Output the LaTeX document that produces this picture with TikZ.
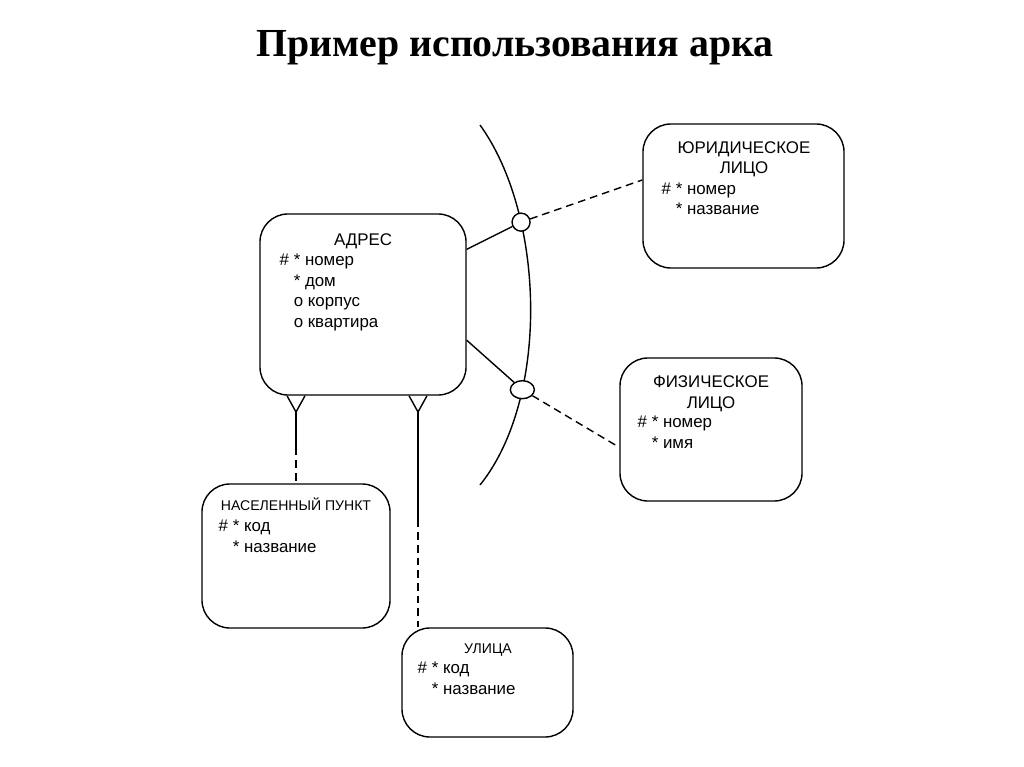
\documentclass[tikz,border=0pt]{standalone}
\usepackage{fontspec}
\setmainfont{Liberation Sans}
\newfontfamily\titlefont{Liberation Serif}
\usetikzlibrary{calc, shapes.geometric}

\tikzset{
    entity/.style={draw, rounded corners=0.7cm, inner sep=0pt},
    head/.style={anchor=base, align=center, inner sep=0pt, font=\fontsize{12}{14.6}\selectfont},
    smallhead/.style={anchor=base, align=center, inner sep=0pt, font=\fontsize{10}{12}\selectfont},
    attrs/.style={anchor=base west, align=left, inner sep=0pt, font=\fontsize{12}{14.6}\selectfont},
    dashline/.style={dash pattern=on 5.5pt off 3.5pt},
}

\begin{document}
\begin{tikzpicture}[x=0.025cm, y=-0.025cm, line width=1pt]
    \useasboundingbox (0,0) rectangle (1024,767);

    \node[anchor=base, font=\titlefont\bfseries\fontsize{28.3}{32}\selectfont] (title) at (515,57) {Пример использования арка};

    % entities
    \node[entity, minimum width=5.15cm, minimum height=4.525cm] (adr) at (363,304.5) {};
    \node[entity, minimum width=5.025cm, minimum height=3.6cm] (jur) at (743.5,196) {};
    \node[entity, minimum width=4.55cm, minimum height=3.575cm] (fiz) at (711,429.5) {};
    \node[entity, minimum width=4.7cm, minimum height=3.6cm] (nas) at (296,556) {};
    \node[entity, minimum width=4.275cm, minimum height=2.725cm] (ul) at (487.5,682.5) {};

    % texts (base = baseline of the last line)
    \node[head] (adrh) at (363,246) {АДРЕС};
    \node[attrs] (adra) at (279,327.5) {\# * номер\\\phantom{\#} * дом\\\phantom{\#} о корпус\\\phantom{\#} о квартира};

    \node[head] (jurh) at (744,174) {ЮРИДИЧЕСКОЕ\\ЛИЦО};
    \node[attrs] (jura) at (661,215) {\# * номер\\\phantom{\#} * название};

    \node[head] (fizh) at (711,408) {ФИЗИЧЕСКОЕ\\ЛИЦО};
    \node[attrs] (fiza) at (637,448) {\# * номер\\\phantom{\#} * имя};

    \node[smallhead] (nash) at (296,510) {НАСЕЛЕННЫЙ ПУНКТ};
    \node[attrs] (nasa) at (218,552) {\# * код\\\phantom{\#} * название};

    \node[smallhead] (ulh) at (488,653) {УЛИЦА};
    \node[attrs] (ula) at (417,694) {\# * код\\\phantom{\#} * название};

    % arc
    \draw (480,125) .. controls (545,215) and (550,398) .. (480,485)
        node[pos=0.29, circle, draw, fill=white, minimum size=0.45cm, inner sep=0pt] (c1) {}
        node[pos=0.71, ellipse, draw, fill=white, minimum width=0.6cm, minimum height=0.45cm, inner sep=0pt] (e1) {};

    \draw (adr.28) -- (c1);
    \draw[dashline] (c1) -- (jur.171);
    \draw (adr.-19) -- (e1);
    \draw[dashline] (e1) -- (fiz.191);

    % crow's feet
    \coordinate (f1) at (296,412);
    \coordinate (f2) at (418,412);
    \draw ($(adr.south -| f1)+(-9,0)$) -- (f1) -- ($(adr.south -| f1)+(9,0)$);
    \draw ($(adr.south -| f2)+(-9,0)$) -- (f2) -- ($(adr.south -| f2)+(9,0)$);

    \coordinate (m1) at ($(f1)!0.5!(nas.north)$);
    \coordinate (m2) at ($(f2)!0.5!(f2 |- ul.north)$);
    \draw (f1) -- (m1);
    \draw[dashline] (m1) -- (nas.north);
    \draw (f2) -- (m2);
    \draw[dashline] (m2) -- (f2 |- ul.north);
\end{tikzpicture}
\end{document}
